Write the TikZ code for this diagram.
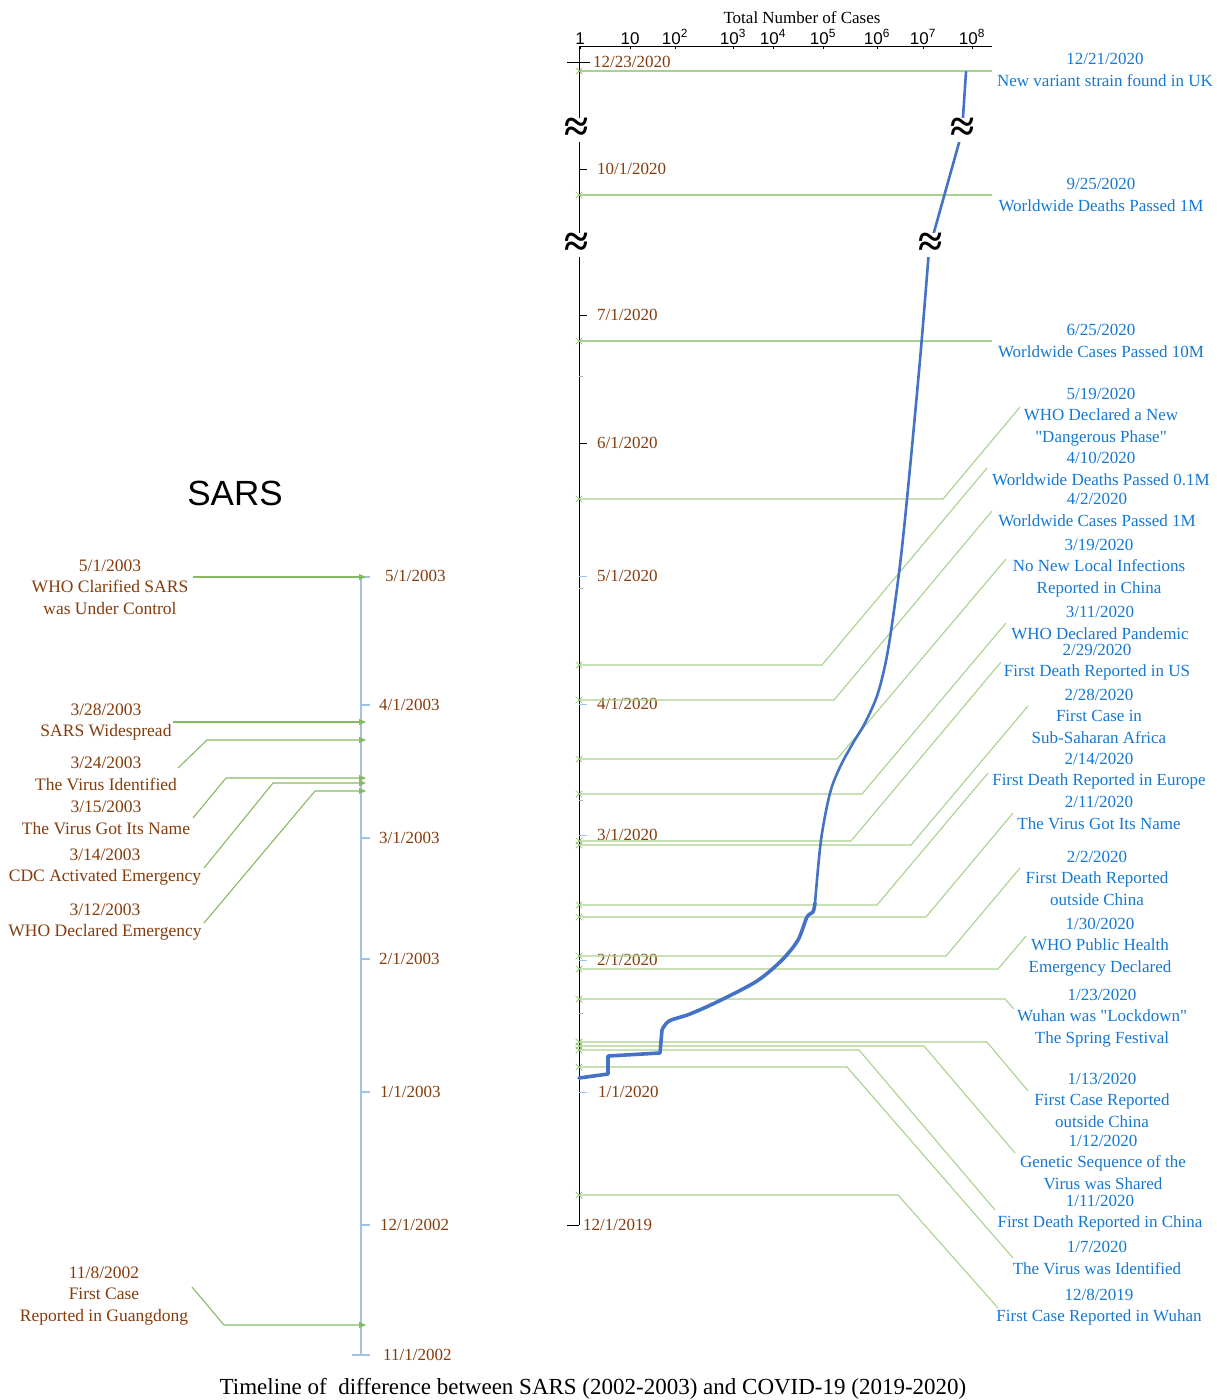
\documentclass[tikz,border=0pt]{standalone}
\usepackage{fontspec}
\setmainfont{Liberation Serif}[Ligatures=TeXOff]
\setsansfont{Liberation Sans}
\usetikzlibrary{arrows.meta,positioning,calc,shapes.misc}

\definecolor{datebrown}{RGB}{132,60,12}
\definecolor{labelblue}{RGB}{20,120,210}
\definecolor{leadgreen}{RGB}{169,209,142}
\definecolor{arrowgreen}{RGB}{112,173,71}
\definecolor{curveblue}{RGB}{68,114,196}
\definecolor{sarsaxis}{RGB}{157,195,230}

\tikzset{
  datelab/.style={text=datebrown, anchor=west, inner sep=0pt, font=\fontsize{17}{20}\selectfont},
  covlab/.style={text=labelblue, align=center, inner sep=0pt, font=\fontsize{17}{21.5}\selectfont},
  sarslab/.style={text=datebrown, align=center, inner sep=0pt, font=\fontsize{17.5}{21.5}\selectfont},
  numlab/.style={font=\sffamily\fontsize{17}{17}\selectfont, anchor=base, inner sep=0pt},
  evline/.style={leadgreen, line width=1.1pt},
  evmark/.style={cross out, draw=arrowgreen!80, minimum size=6pt, inner sep=0pt, line width=0.7pt},
  sarsarrow/.style={arrowgreen!85, line width=1.1pt, -{Triangle[length=7pt,width=6pt]}},
  curveline/.style={curveblue, line cap=round, line join=round},
  breakmark/.style={fill=white, inner sep=0pt, font=\bfseries\fontsize{44}{44}\selectfont},
}

\begin{document}
\begin{tikzpicture}[x=1pt,y=-1pt]
\useasboundingbox (0,0) rectangle (1216,1400);

% COVID-19 axes
\coordinate (o) at (579,46);
\draw[line width=1pt] (992,46) -- (o) -- (579,1225);
\node[font=\fontsize{17}{17}\selectfont] (axtitle) at (802,18) {Total Number of Cases};
\foreach \x/\t [count=\i] in {580/1, 630/10, 675/10\textsuperscript{2}, 733/10\textsuperscript{3},
    773/10\textsuperscript{4}, 823/10\textsuperscript{5}, 877/10\textsuperscript{6},
    923/10\textsuperscript{7}, 972/10\textsuperscript{8}} {
  \draw (\x,46) -- (\x,49);
  \node[numlab] (num\i) at (\x,44) {\t};
}

% date ticks
\draw (567,62) -- (590,62);
\draw (567,1225) -- (579,1225);
\foreach \y/\c in {169/black, 315/black, 443/black, 576/sarsaxis, 704/sarsaxis,
    835/sarsaxis, 960/sarsaxis, 1092/sarsaxis}
  \draw[\c, line width=0.8pt] (579,\y) -- (587,\y);
\foreach \y in {376, 588, 800, 1013}
  \draw[gray!60, line width=0.8pt] (579,\y) -- (583,\y);

\node[datelab] (c1) at (593,62) {12/23/2020};
\node[datelab] (c2) at (597,169) {10/1/2020};
\node[datelab] (c3) at (597,315) {7/1/2020};
\node[datelab] (c4) at (597,443) {6/1/2020};
\node[datelab] (c5) at (597,576) {5/1/2020};
\node[datelab] (c6) at (597,704) {4/1/2020};
\node[datelab] (c7) at (597,835) {3/1/2020};
\node[datelab] (c8) at (597,960) {2/1/2020};
\node[datelab] (c9) at (598,1092) {1/1/2020};
\node[datelab] (c10) at (583,1225) {12/1/2019};

% event leaders: axis y / bend x / tip x / tip y
\foreach \n/\ya/\xb/\xe/\ye in {
    1/71/992/992/71, 2/195/992/992/195, 3/341/992/992/341,
    4/499/943/1020/407, 5/665/822/987/468, 6/700/834/992/511,
    7/759/837/1006/559, 8/794/862/1006/623, 9/841/851/1001/662,
    10/845/911/1028/706, 11/905/877/988/773, 12/917/926/1013/813,
    13/956/946/1020/868, 14/969/998/1026/936, 15/999/1005/1014/1009,
    16/1042/987/1028/1091, 17/1046/924/1015/1153, 18/1050/859/995/1210,
    19/1067/847/1013/1258, 20/1195/898/998/1308} {
  \coordinate (ev\n) at (579,\ya);
  \coordinate (tip\n) at (\xe,\ye);
  \draw[evline] (ev\n) -- (\xb,\ya) -- (tip\n);
  \node[evmark] (mk\n) at (ev\n) {};
}

% COVID-19 events
\node[covlab] (e1) at (1105,70) {12/21/2020\\New variant strain found in UK};
\node[covlab] (e2) at (1101,195) {9/25/2020\\Worldwide Deaths Passed 1M};
\node[covlab] (e3) at (1101,341) {6/25/2020\\Worldwide Cases Passed 10M};
\node[covlab] (e4) at (1101,417) {5/19/2020\\WHO Declared a New\\"Dangerous Phase"};
\node[covlab] (e5) at (1101,469) {4/10/2020\\Worldwide Deaths Passed 0.1M};
\node[covlab] (e6) at (1097,510) {4/2/2020\\Worldwide Cases Passed 1M};
\node[covlab] (e7) at (1099,568) {3/19/2020\\No New Local Infections\\Reported in China};
\node[covlab] (e8) at (1100,623) {3/11/2020\\WHO Declared Pandemic};
\node[covlab] (e9) at (1097,662) {2/29/2020\\First Death Reported in US};
\node[covlab] (e10) at (1099,716) {2/28/2020\\First Case in\\Sub-Saharan Africa};
\node[covlab] (e11) at (1099,771) {2/14/2020\\First Death Reported in Europe};
\node[covlab] (e12) at (1099,813) {2/11/2020\\The Virus Got Its Name};
\node[covlab] (e13) at (1097,878) {2/2/2020\\First Death Reported\\outside China};
\node[covlab] (e14) at (1100,947) {1/30/2020\\WHO Public Health\\Emergency Declared};
\node[covlab] (e15) at (1102,1018) {1/23/2020\\Wuhan was "Lockdown"\\The Spring Festival};
\node[covlab] (e16) at (1102,1100) {1/13/2020\\First Case Reported\\outside China};
\node[covlab] (e17) at (1103,1162) {1/12/2020\\Genetic Sequence of the\\Virus was Shared};
\node[covlab] (e18) at (1100,1213) {1/11/2020\\First Death Reported in China};
\node[covlab] (e19) at (1097,1258) {1/7/2020\\The Virus was Identified};
\node[covlab] (e20) at (1099,1307) {12/8/2019\\First Case Reported in Wuhan};

% total cases curve
\draw[curveline, line width=3.6pt] (579,1078) -- (608,1074) -- (608,1056) -- (660,1053) -- (662,1030)
  plot[smooth, tension=0.5] coordinates {(662,1030) (669,1021) (690,1014) (719,1001)
    (757,981) (782,960) (798,940) (807,917) (813,912) (815,903)};
\draw[curveline, line width=2.6pt]
  plot[smooth, tension=0.5] coordinates {(815,903) (821,840) (830,793) (840,767) (853,743)
    (865,723) (878,693) (888,650) (899,573) (907,499) (920,360) (929,250)}
  -- (962,132) -- (966,72);

% axis breaks
\node[breakmark] (br1) at (577,130) {≈};
\node[breakmark] (br2) at (577,245) {≈};
\node[breakmark] (br3) at (963,130) {≈};
\node[breakmark] (br4) at (931,245) {≈};

% SARS timeline
\node[font=\sffamily\fontsize{35}{35}\selectfont] (sars) at (235,493) {SARS};
\draw[sarsaxis, line width=1.1pt] (361,576) -- (361,1355);
\draw[sarsaxis, line width=1.1pt] (352,1355) -- (370,1355);
\foreach \y in {577, 705, 838, 959, 1092, 1225}
  \draw[sarsaxis, line width=1.1pt] (362,\y) -- (370,\y);

\node[datelab] (s1) at (385,576) {5/1/2003};
\node[datelab] (s2) at (379,705) {4/1/2003};
\node[datelab] (s3) at (379,838) {3/1/2003};
\node[datelab] (s4) at (379,959) {2/1/2003};
\node[datelab] (s5) at (380,1092) {1/1/2003};
\node[datelab] (s6) at (380,1225) {12/1/2002};
\node[datelab] (s7) at (383,1355) {11/1/2002};

% SARS events
\node[sarslab] (a1) at (110,587) {5/1/2003\\WHO Clarified SARS\\was Under Control};
\node[sarslab] (a2) at (106,722) {3/28/2003\\SARS Widespread};
\node[sarslab] (a3) at (106,774) {3/24/2003\\The Virus Identified};
\node[sarslab] (a4) at (106,818) {3/15/2003\\The Virus Got Its Name};
\node[sarslab] (a5) at (105,867) {3/14/2003\\CDC Activated Emergency};
\node[sarslab] (a6) at (105,922) {3/12/2003\\WHO Declared Emergency};
\node[sarslab] (a7) at (104,1296) {11/8/2002\\First Case\\Reported in Guangdong};

\foreach \n/\xs/\ys/\xb/\yb in {1/193/577/193/577, 2/173/722/173/722, 3/178/768/207/740,
    4/193/818/226/778, 5/204/868/273/783, 6/204/923/315/791, 7/192/1287/224/1325} {
  \coordinate (sa\n) at (\xs,\ys);
  \coordinate (sb\n) at (\xb,\yb);
  \coordinate (st\n) at (366,\yb);
  \draw[sarsarrow] (sa\n) -- (sb\n) -- (st\n);
}

\node[font=\fontsize{23}{23}\selectfont] (title) at (593,1389)
  {Timeline of\ \ difference between SARS (2002-2003) and COVID-19 (2019-2020)};
\end{tikzpicture}
\end{document}
